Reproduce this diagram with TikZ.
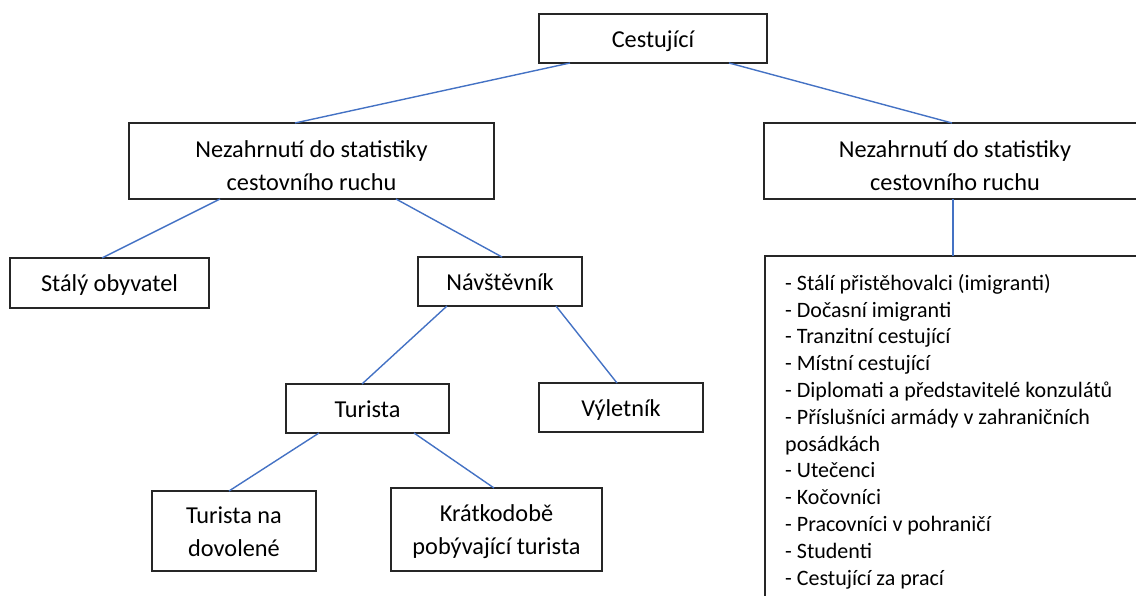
\documentclass[tikz,border=0pt]{standalone}
\usepackage{fontspec}
\setmainfont{Carlito}
\definecolor{connblue}{HTML}{4472C4}
\definecolor{boxline}{HTML}{262626}
\newcommand\mytopstrut{\rule{0pt}{25.5pt}}
\newcommand\mytallstrut{\rule{0pt}{33.5pt}}
\newcommand\mybotstrut{\rule[-8pt]{0pt}{0pt}}
\newcommand\mylisttop{\rule{0pt}{20pt}}
\begin{document}
\begin{tikzpicture}[x=1pt,y=-1pt,
  box/.style={draw=boxline, line width=1.5pt, rectangle, inner sep=0pt, outer sep=0pt, align=center,
              font=\fontsize{24.3}{32.8}\selectfont},
  listbox/.style={draw=boxline, line width=1.5pt, rectangle, inner sep=0pt, outer sep=0pt},
  listtext/.style={inner sep=0pt, align=left, font=\fontsize{22}{26.8}\selectfont},
  link/.style={draw=connblue, line width=1.4pt}]
\useasboundingbox (0,0) rectangle (1136,596);
\clip (0,0) rectangle (1136,596);
\node[box, minimum width=228pt, minimum height=49pt] (top) at (653,38.5) {\mytopstrut Cestující\mybotstrut};
\node[box, minimum width=365pt, minimum height=76pt] (L) at (311.5,161) {\mytallstrut Nezahrnutí do statistiky\\cestovního ruchu\mybotstrut};
\node[box, minimum width=382pt, minimum height=76pt] (R) at (955,161) {\mytallstrut Nezahrnutí do statistiky\\cestovního ruchu\mybotstrut};
\node[box, minimum width=199pt, minimum height=50pt] (st) at (109.5,283) {\mytopstrut Stálý obyvatel\mybotstrut};
\node[box, minimum width=164pt, minimum height=49pt] (nav) at (500,281.5) {\mytopstrut Návštěvník\mybotstrut};
\node[box, minimum width=163pt, minimum height=49pt] (tur) at (367.5,408.5) {\mytopstrut Turista\mybotstrut};
\node[box, minimum width=164pt, minimum height=49pt] (vyl) at (621,407.5) {\mytopstrut Výletník\mybotstrut};
\node[box, minimum width=164pt, minimum height=80pt] (tnd) at (234,531) {\mytopstrut Turista na\\dovolené\mybotstrut};
\node[box, minimum width=211pt, minimum height=83pt] (kr) at (496.5,529.5) {\mytopstrut Krátkodobě\\pobývající turista\mybotstrut};
\node[listbox, minimum width=420pt, minimum height=360pt, anchor=north west] (lst) at (765,256) {};
\node[listtext, anchor=north west] (lsttext) at (785,270) {\mylisttop - Stálí přistěhovalci (imigranti)\\
- Dočasní imigranti\\
- Tranzitní cestující\\
- Místní cestující\\
- Diplomati a představitelé konzulátů\\
- Příslušníci armády v zahraničních\\
posádkách\\
- Utečenci\\
- Kočovníci\\
- Pracovníci v pohraničí\\
- Studenti\\
- Cestující za prací};
\coordinate (rb) at ([xshift=-2pt]R.south);
\draw[link] ([xshift=-83pt]top.south) -- ([xshift=-16.5pt]L.north);
\draw[link] ([xshift=76pt]top.south) -- ([xshift=-3pt]R.north);
\draw[link] ([xshift=-91.5pt]L.south) -- ([xshift=-7.5pt]st.north);
\draw[link] ([xshift=84.5pt]L.south) -- ([xshift=2pt]nav.north);
\draw[link] ([xshift=-53pt]nav.south) -- ([xshift=-5.5pt]tur.north);
\draw[link] ([xshift=56pt]nav.south) -- ([xshift=-4pt]vyl.north);
\draw[link] ([xshift=-48.5pt]tur.south) -- ([xshift=-5pt]tnd.north);
\draw[link] ([xshift=46.5pt]tur.south) -- ([xshift=-2.5pt]kr.north);
\draw[link] (rb) -- (rb |- lst.north);
\end{tikzpicture}
\end{document}
